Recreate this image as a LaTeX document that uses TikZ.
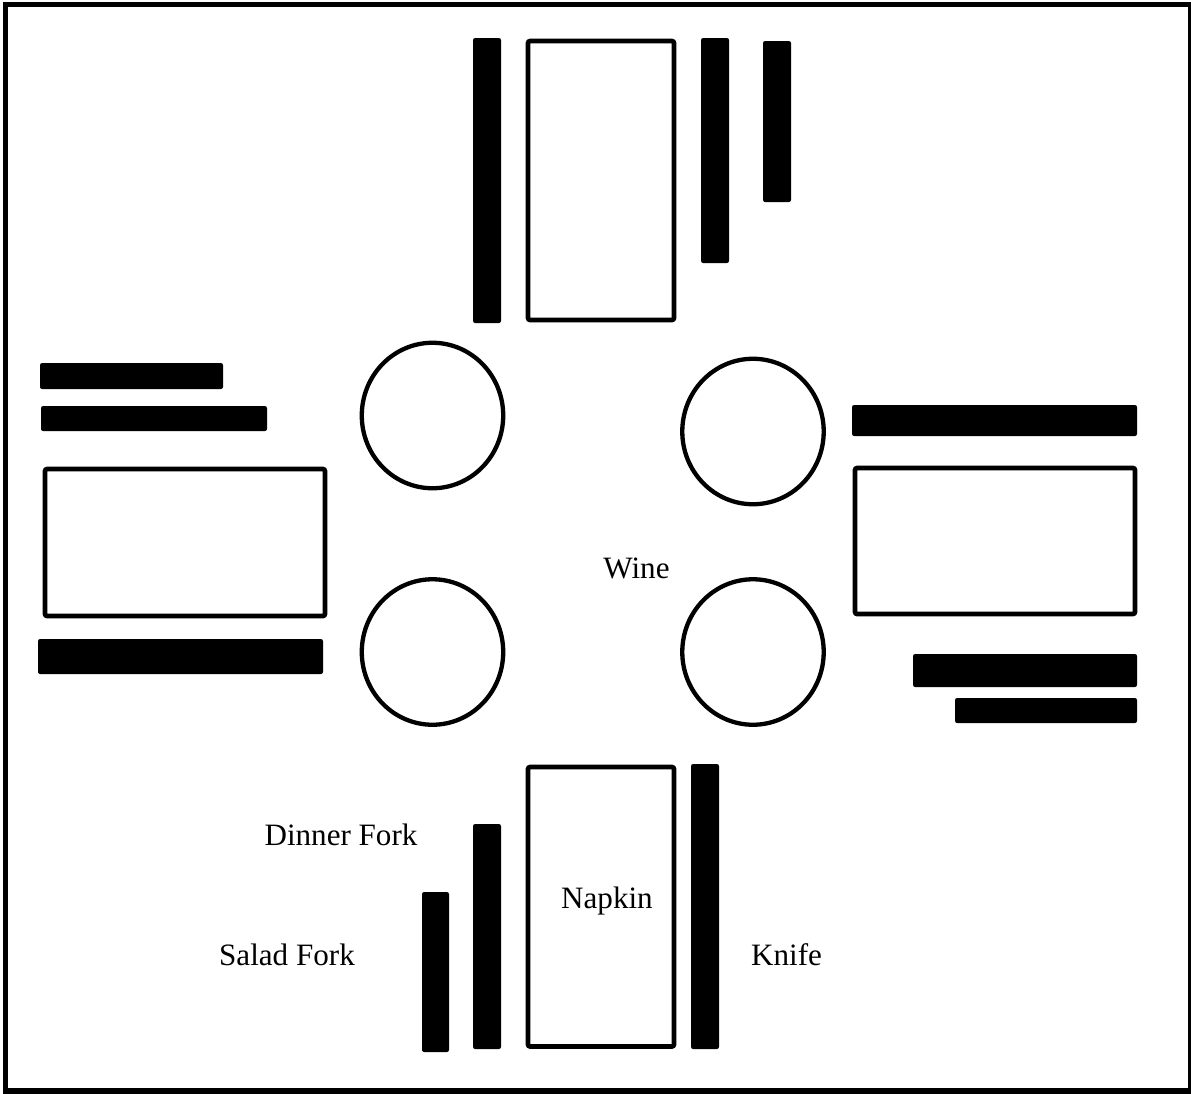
\documentclass[tikz,border=0pt]{standalone}
\usepackage{fontspec}
\setmainfont{Liberation Serif}
\usetikzlibrary{fit,shapes.geometric}
\begin{document}
\begin{tikzpicture}[x=0.02cm,y=-0.02cm,
  bar/.style={fill=black,inner sep=0pt,rounded corners=1.2pt},
  napkin/.style={draw=black,line width=2.65pt,inner sep=0pt,rounded corners=1.2pt,fill=white},
  glass/.style={draw=black,line width=2.45pt,ellipse,inner sep=0pt,minimum width=80.5pt,minimum height=82.8pt},
  lbl/.style={anchor=base,inner sep=0pt,font=\fontsize{17.7pt}{20pt}\selectfont}]
\useasboundingbox (0,0) rectangle (1191,1093);
\node[draw=black,line width=3pt,inner sep=0pt,fit={(5.5,4.5) (1190.5,1091)}] (frame) {};
% top setting
\node[bar,fit={(473,38) (501,323)}] (tbarA) {};
\node[napkin,fit={(528,41) (674,320)}] (tnapkin) {};
\node[bar,fit={(701,38) (729,263)}] (tbarB) {};
\node[bar,fit={(763,41) (791,202)}] (tbarC) {};
% left setting
\node[bar,fit={(40,363) (223,389)}] (lbarA) {};
\node[bar,fit={(41,406) (267,431)}] (lbarB) {};
\node[napkin,fit={(45,469) (325,616)}] (lnapkin) {};
\node[bar,fit={(38,639) (323,674)}] (lbarC) {};
% right setting
\node[bar,fit={(852,405) (1137,436)}] (rbarA) {};
\node[napkin,fit={(855,468) (1135,614)}] (rnapkin) {};
\node[bar,fit={(913,654) (1137,687)}] (rbarB) {};
\node[bar,fit={(955,698) (1137,723)}] (rbarC) {};
% bottom setting
\node[bar,fit={(422,892) (449,1052)}] (saladfork) {};
\node[bar,fit={(473,824) (501,1049)}] (dinnerfork) {};
\node[napkin,fit={(528,767) (674,1046.5)}] (bnapkin) {};
\node[bar,fit={(691,764) (719,1049)}] (knife) {};
% glasses
\node[glass] (gTL) at (432.5,415.5) {};
\node[glass] (gTR) at (753,431.5) {};
\node[glass] (gBL) at (432.5,652) {};
\node[glass] (gBR) at (753,652) {};
% labels
\node[lbl] (wine) at (636.5,578) {Wine};
\node[lbl] (napkinlbl) at (607,908) {Napkin};
\node[lbl] (dinnerlbl) at (341,845) {Dinner Fork};
\node[lbl] (saladlbl) at (287,965) {Salad Fork};
\node[lbl] (knifelbl) at (786.5,965) {Knife};
\end{tikzpicture}
\end{document}
